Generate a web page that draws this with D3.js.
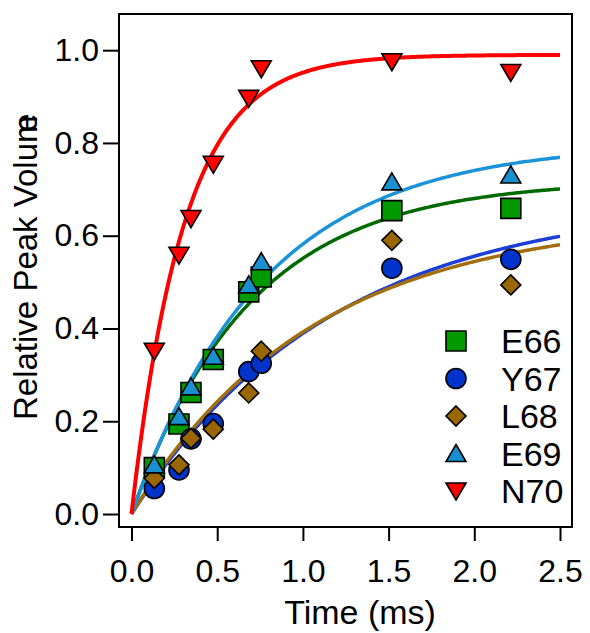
<!DOCTYPE html>
<html>
<head>
<meta charset="utf-8">
<script src="https://cdn.jsdelivr.net/npm/d3@7"></script>
<style>
	body { margin: 0; background: #fff; }
	text { font-family: "Liberation Sans", Arial, Helvetica, sans-serif; }
</style>
</head>
<body>
<div id="canvas"></div>
<script>
//peak volume build-up

var width = 590;
var height = 633;

// data
var times = [0.133, 0.277, 0.347, 0.477, 0.684, 0.757, 1.519, 2.213];
var names = ["E66", "Y67", "L68", "E69", "N70"];
var e66 = [0.100, 0.194, 0.262, 0.333, 0.479, 0.511, 0.654, 0.659];
var y67 = [0.055, 0.095, 0.162, 0.195, 0.307, 0.325, 0.530, 0.549];
var l68 = [0.077, 0.106, 0.163, 0.183, 0.261, 0.351, 0.590, 0.494];
var e69 = [0.106, 0.210, 0.274, 0.340, 0.494, 0.544, 0.716, 0.731];
var n70 = [0.351, 0.558, 0.637, 0.754, 0.896, 0.960, 0.975, 0.952];
// single exponential fits  A*(1-exp(-k t))
var fitAmp = [0.72, 0.68, 0.64, 0.80, 0.99];
var fitRate = [1.45, 0.85, 0.95, 1.30, 3.25];
var xTicks = [0, 0.5, 1.0, 1.5, 2.0, 2.5];
var yTicks = [0, 0.2, 0.4, 0.6, 0.8, 1.0];

var values = [e66, y67, l68, e69, n70];
var fillColor = ["#009900", "#0033cc", "#996600", "#1a8fd0", "#ff0000"];
var lineColor = ["#006a00", "#1a3ed6", "#a26f0c", "#1a93d8", "#ff0000"];
var shapes = ["square", "circle", "diamond", "up", "down"];

var svg = d3.select("#canvas").append("svg")
	.attr("width", width)
	.attr("height", height);

var pLeft = 119, pRight = 572, pTop = 14, pBottom = 527;

var x = d3.scaleLinear().domain([-0.073, 2.57]).range([pLeft, pRight]);
var y = d3.scaleLinear().domain([-0.028, 1.078]).range([pBottom, pTop]);

function marker(shape){
	switch(shape){
		case "square":
			return "M-10,-10H10V10H-10Z";
		case "circle":
			return "M10,0A10,10 0 1,1 -10,0A10,10 0 1,1 10,0Z";
		case "diamond":
			return "M0,-10L10,0L0,10L-10,0Z";
		case "up":
			return "M0,-9L10,8H-10Z";
		case "down":
			return "M0,9L10,-8H-10Z";
	}
}

// fit curves
var curve = d3.line()
	.x(function(d){return x(d[0]);})
	.y(function(d){return y(d[1]);});

var tFit = d3.range(0, 2.5001, 0.01);

values.forEach(function(v, i){
	var pts = tFit.map(function(t){
		return [t, fitAmp[i]*(1-Math.exp(-fitRate[i]*t))];
	});
	svg.append("path")
		.attr("d", curve(pts))
		.attr("fill", "none")
		.attr("stroke", lineColor[i])
		.attr("stroke-width", i == 4 ? 4 : 3.5);
});

// points
values.forEach(function(v, i){
	svg.append("g").selectAll("path")
		.data(v)
		.enter()
		.append("path")
		.attr("transform", function(d, j){return "translate(" + x(times[j]) + "," + y(d) + ")";})
		.attr("d", marker(shapes[i]))
		.attr("fill", fillColor[i])
		.attr("stroke", "#000")
		.attr("stroke-width", 1.6);
});

// frame
svg.append("rect")
	.attr("x", pLeft)
	.attr("y", pTop)
	.attr("width", pRight - pLeft)
	.attr("height", pBottom - pTop)
	.attr("fill", "none")
	.attr("stroke", "#000")
	.attr("stroke-width", 2);

var xAxis = svg.append("g")
	.attr("transform", "translate(0," + pBottom + ")")
	.call(d3.axisBottom(x).tickValues(xTicks).tickFormat(d3.format(".1f")).tickSize(14).tickPadding(18));
var yAxis = svg.append("g")
	.attr("transform", "translate(" + pLeft + ",0)")
	.call(d3.axisLeft(y).tickValues(yTicks).tickFormat(d3.format(".1f")).tickSize(16).tickPadding(4));

[xAxis, yAxis].forEach(function(a){
	a.select(".domain").remove();
	a.selectAll("line").attr("stroke", "#000").attr("stroke-width", 2);
	a.selectAll("text").attr("fill", "#000").style("font-size", "32px")
		.style("font-family", "'Liberation Sans', Arial, sans-serif");
});

svg.append("text")
	.attr("x", 360)
	.attr("y", 624)
	.attr("text-anchor", "middle")
	.style("font-size", "34px")
	.text("Time (ms)");

var ylab = svg.append("text")
	.attr("transform", "translate(37,420) rotate(-90)")
	.style("font-size", "33px")
	.text("Relative Peak Volum");
ylab.append("tspan").attr("dx", "-0.5em").text("e");

// legend
var leg = svg.append("g");
names.forEach(function(n, i){
	var ly = 341 + i*37.5;
	leg.append("path")
		.attr("transform", "translate(456," + ly + ")")
		.attr("d", marker(shapes[i]))
		.attr("fill", fillColor[i])
		.attr("stroke", "#000")
		.attr("stroke-width", 1.6);
	leg.append("text")
		.attr("x", 501)
		.attr("y", ly + 12)
		.style("font-size", "34px")
		.text(n);
});
</script>
</body>
</html>
